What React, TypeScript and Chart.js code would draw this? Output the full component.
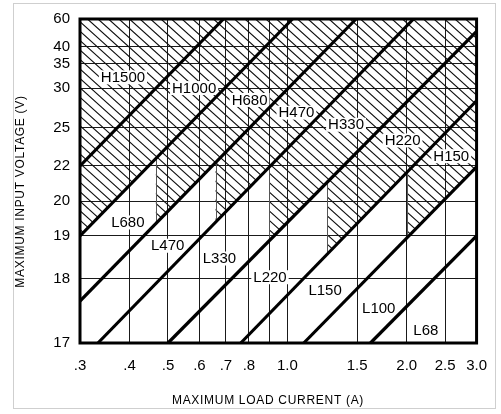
import React, { useEffect, useRef } from 'react';
import { Chart, registerables, Scale } from 'chart.js';

// ---------- data ----------
const xTickValues = [0.3, 0.4, 0.5, 0.6, 0.7, 0.8, 0.9, 1.0, 1.5, 2.0, 2.5, 3.0];
const xTickLabels = ['.3', '.4', '.5', '.6', '.7', '.8', '', '1.0', '1.5', '2.0', '2.5', '3.0'];
const yTickValues = [17, 18, 19, 20, 22, 25, 30, 35, 40, 60];

// inductor boundary lines (current A, voltage V) start -> end
const boundaryNames = ['B', 'A', 'C', 'D', 'E', 'F', 'G', 'H'];
const boundaryStartCurrent = [0.3, 0.3, 0.3, 0.333, 0.5, 0.763, 1.1, 1.62];
const boundaryStartVoltage = [22, 19, 17.65, 17, 17, 17, 17, 17];
const boundaryEndCurrent = [0.69, 1.03, 1.49, 2.08, 3.0, 3.0, 3.0, 3.0];
const boundaryEndVoltage = [60, 60, 60, 60, 51, 28.4, 21.95, 19];

// hatched (H) area: floor follows these boundary lines, stepping at these currents
const hatchFloorLines = [1, 2, 3, 4, 5, 6];
const hatchSplitCurrent = [0.466, 0.659, 0.9, 1.26, 2.0];

const regionLabels = ['H1500', 'H1000', 'H680', 'H470', 'H330', 'H220', 'H150', 'L680', 'L470', 'L330', 'L220', 'L150', 'L100', 'L68'];
const regionLabelCurrent = [0.385, 0.582, 0.803, 1.054, 1.406, 1.952, 2.59, 0.396, 0.499, 0.674, 0.904, 1.245, 1.70, 2.235];
const regionLabelVoltage = [32.2, 30, 28.5, 26.9, 25.37, 24.0, 22.76, 19.39, 18.77, 18.47, 18.03, 17.82, 17.54, 17.2];

// ---------- custom piecewise axis ----------
class PiecewiseScale extends Scale {
  static id = 'piecewise';
  static defaults = {};
  determineDataLimits() {
    const stops = (this as any).options.stops as number[];
    (this as any).min = stops[0];
    (this as any).max = stops[stops.length - 1];
  }
  buildTicks() {
    const stops = (this as any).options.stops as number[];
    return stops.map((v) => ({ value: v }));
  }
  getLabelForValue(v: number) {
    return String(v);
  }
  frac(v: number) {
    const stops = (this as any).options.stops as number[];
    const fr = (this as any).options.fractions as number[];
    let i = 1;
    while (i < stops.length - 1 && v > stops[i]) i++;
    const t = (v - stops[i - 1]) / (stops[i] - stops[i - 1]);
    return fr[i - 1] + t * (fr[i] - fr[i - 1]);
  }
  getPixelForValue(v: number) {
    return (this as any).getPixelForDecimal(this.frac(v));
  }
  getValueForPixel(p: number) {
    const d = (this as any).getDecimalForPixel(p);
    const stops = (this as any).options.stops as number[];
    const fr = (this as any).options.fractions as number[];
    let i = 1;
    while (i < fr.length - 1 && d > fr[i]) i++;
    const t = (d - fr[i - 1]) / (fr[i] - fr[i - 1]);
    return stops[i - 1] + t * (stops[i] - stops[i - 1]);
  }
}

Chart.register(...registerables, PiecewiseScale as any);

const FONT = '"Liberation Sans", "DejaVu Sans", sans-serif';

function linePix(chart: any, i: number) {
  const xs = chart.scales.x;
  const ys = chart.scales.y;
  return {
    x1: xs.getPixelForValue(boundaryStartCurrent[i]),
    y1: ys.getPixelForValue(boundaryStartVoltage[i]),
    x2: xs.getPixelForValue(boundaryEndCurrent[i]),
    y2: ys.getPixelForValue(boundaryEndVoltage[i]),
  };
}
function yAt(l: any, x: number) {
  return l.y1 + ((l.y2 - l.y1) * (x - l.x1)) / (l.x2 - l.x1);
}

const selectionPlugin = {
  id: 'selection',
  beforeDraw(chart: any) {
    const ctx = chart.ctx;
    ctx.save();
    ctx.strokeStyle = '#cfcfcf';
    ctx.lineWidth = 1;
    ctx.strokeRect(13.5, 3.5, 482, 405);
    ctx.restore();
  },
  beforeDatasetsDraw(chart: any) {
    const ctx = chart.ctx;
    const a = chart.chartArea;
    const xs = chart.scales.x;
    const lines = hatchFloorLines.map((i) => linePix(chart, i));
    const splits = hatchSplitCurrent.map((c) => xs.getPixelForValue(c));
    const n = splits.length;
    // polygon of hatched region
    const pts: [number, number][] = [];
    pts.push([a.left, a.top]);
    pts.push([a.right, a.top]);
    pts.push([a.right, yAt(lines[n], a.right)]);
    for (let k = n - 1; k >= 0; k--) {
      pts.push([splits[k], yAt(lines[k + 1], splits[k])]);
      pts.push([splits[k], yAt(lines[k], splits[k])]);
    }
    pts.push([a.left, yAt(lines[0], a.left)]);

    ctx.save();
    ctx.beginPath();
    ctx.rect(a.left, a.top, a.right - a.left, a.bottom - a.top);
    ctx.clip();
    ctx.beginPath();
    pts.forEach((p, idx) => (idx === 0 ? ctx.moveTo(p[0], p[1]) : ctx.lineTo(p[0], p[1])));
    ctx.closePath();
    ctx.clip();
    const h = a.bottom - a.top;
    const slope = 0.9;
    const step = 10.5;
    ctx.strokeStyle = '#111';
    ctx.lineWidth = 1.1;
    ctx.beginPath();
    for (let x0 = a.left - h / slope - step; x0 < a.right + step; x0 += step) {
      ctx.moveTo(x0, a.top);
      ctx.lineTo(x0 + h / slope, a.bottom);
    }
    ctx.stroke();
    ctx.restore();

    // vertical edges of the hatched steps
    ctx.save();
    ctx.strokeStyle = '#555';
    ctx.lineWidth = 1;
    ctx.beginPath();
    for (let k = 0; k < n; k++) {
      const x = Math.round(splits[k]) + 0.5;
      ctx.moveTo(x, yAt(lines[k], splits[k]));
      ctx.lineTo(x, yAt(lines[k + 1], splits[k]));
    }
    ctx.stroke();
    ctx.restore();

    // region labels
    const ys = chart.scales.y;
    ctx.save();
    ctx.font = '15px ' + FONT;
    ctx.textAlign = 'center';
    ctx.textBaseline = 'middle';
    regionLabels.forEach((t, i) => {
      const x = xs.getPixelForValue(regionLabelCurrent[i]);
      const y = ys.getPixelForValue(regionLabelVoltage[i]);
      const w = ctx.measureText(t).width;
      ctx.fillStyle = '#fff';
      ctx.fillRect(x - w / 2 - 2, y - 7, w + 4, 14);
      ctx.fillStyle = '#000';
      ctx.fillText(t, x, y + 0.5);
    });
    ctx.restore();
  },
  afterDraw(chart: any) {
    const ctx = chart.ctx;
    const a = chart.chartArea;
    ctx.save();
    ctx.strokeStyle = '#000';
    ctx.lineWidth = 3;
    ctx.strokeRect(a.left, a.top, a.right - a.left, a.bottom - a.top);
    ctx.fillStyle = '#000';
    ctx.font = '12px ' + FONT;
    try {
      (ctx as any).letterSpacing = '0.7px';
    } catch (e) {}
    ctx.textAlign = 'center';
    ctx.textBaseline = 'middle';
    ctx.fillText('MAXIMUM LOAD CURRENT (A)', 268, 401);
    ctx.translate(20.5, 191.5);
    ctx.rotate(-Math.PI / 2);
    ctx.fillText('MAXIMUM INPUT VOLTAGE (V)', 0, 0);
    ctx.restore();
  },
};

export default function App() {
  const ref = useRef<HTMLCanvasElement | null>(null);
  useEffect(() => {
    if (!ref.current) return;
    const chart = new Chart(ref.current, {
      type: 'scatter',
      data: {
        datasets: boundaryNames.map((name, i) => ({
          label: name,
          data: [
            { x: boundaryStartCurrent[i], y: boundaryStartVoltage[i] },
            { x: boundaryEndCurrent[i], y: boundaryEndVoltage[i] },
          ],
          showLine: true,
          borderColor: '#000',
          backgroundColor: '#000',
          borderWidth: 3.2,
          pointRadius: 0,
          fill: false,
        })),
      },
      options: {
        animation: false,
        responsive: false,
        events: [],
        layout: { padding: { left: 0, right: 14, top: 10, bottom: 0 } },
        plugins: { legend: { display: false }, tooltip: { enabled: false } },
        scales: {
          x: {
            type: 'logarithmic',
            min: 0.3,
            max: 3.0,
            afterBuildTicks: (s: any) => {
              s.ticks = xTickValues.map((v) => ({ value: v }));
            },
            afterFit: (s: any) => {
              s.height = 71;
            },
            ticks: {
              autoSkip: false,
              maxRotation: 0,
              padding: 14,
              color: '#000',
              font: { family: FONT, size: 15 },
              callback: (v: any) => {
                const i = xTickValues.indexOf(Number(v));
                return i >= 0 ? xTickLabels[i] : '';
              },
            },
            grid: { color: '#1a1a1a', lineWidth: 1, drawTicks: false },
            border: { display: false },
          },
          y: {
            type: 'piecewise' as any,
            stops: yTickValues,
            fractions: [0, 0.199, 0.3303, 0.4375, 0.5465, 0.6646, 0.7868, 0.8619, 0.915, 1],
            afterFit: (s: any) => {
              s.width = 80;
            },
            ticks: {
              autoSkip: false,
              padding: 10,
              color: '#000',
              font: { family: FONT, size: 15 },
            },
            grid: { color: '#1a1a1a', lineWidth: 1, drawTicks: false },
            border: { display: false },
          } as any,
        },
      },
      plugins: [selectionPlugin],
    } as any);
    return () => chart.destroy();
  }, []);
  return (
    <div style={{ position: 'absolute', left: 0, top: 0, width: 501, height: 414 }}>
      <canvas ref={ref} width={501} height={414} style={{ width: 501, height: 414 }} />
    </div>
  );
}
